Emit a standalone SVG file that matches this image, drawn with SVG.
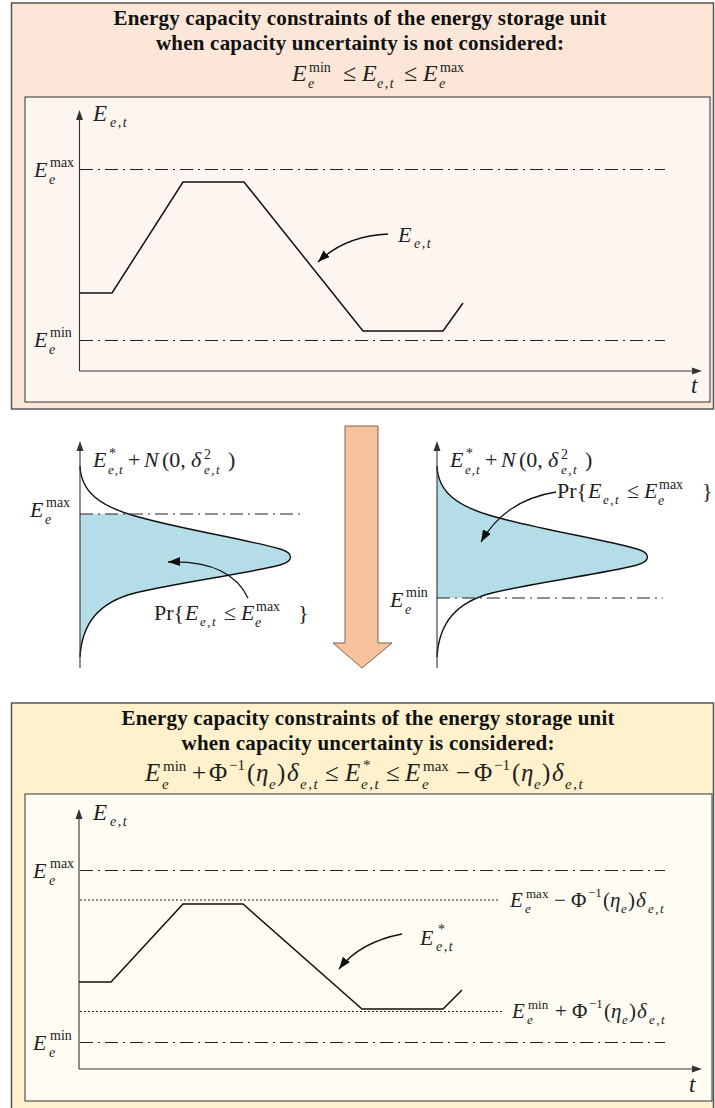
<svg xmlns="http://www.w3.org/2000/svg" width="715" height="1108" viewBox="0 0 715 1108">
<style>
.ttl{font-family:"Liberation Serif","Times New Roman",serif;font-weight:bold;font-size:21px;fill:#111}
.mt{font-family:"Liberation Serif","Times New Roman",serif;fill:#222}
.i{font-style:italic}
.dd{fill:none;stroke:#222;stroke-width:1.2;stroke-dasharray:13 5 2 5}
.dot{fill:none;stroke:#222;stroke-width:1;stroke-dasharray:2 2}
.ax{fill:none;stroke:#333;stroke-width:1.1}
.ah{fill:#333}
.crv{fill:none;stroke:#111;stroke-width:1.5}
.ann{fill:none;stroke:#111;stroke-width:1.3}
.bell{fill:none;stroke:#111;stroke-width:1.4}
.blue{fill:#b5dde8}
</style>
<defs>
<marker id="ar" markerUnits="userSpaceOnUse" markerWidth="13" markerHeight="10" refX="12" refY="4.5" orient="auto">
<path d="M0,0 L12,4.5 L0,9 z" fill="#111"/>
</marker>
<clipPath id="clipL"><rect x="0" y="514" width="350" height="200"/></clipPath>
<clipPath id="clipR"><rect x="400" y="420" width="315" height="178"/></clipPath>
</defs>

<!-- TOP PANEL -->
<g id="top-panel">
<rect x="11.5" y="3" width="702" height="406" fill="#fbe6d7" stroke="#555" stroke-width="1.5"/>
<text class="ttl" x="360" y="25" text-anchor="middle" textLength="493">Energy capacity constraints of the energy storage unit</text>
<text class="ttl" x="360" y="50" text-anchor="middle" textLength="408">when capacity uncertainty is not considered:</text>
<text class="mt" font-size="24">
<tspan class="i" x="292" y="81">E</tspan><tspan x="309" y="72" font-size="14">min</tspan><tspan class="i" x="308" y="88" font-size="14">e</tspan><tspan x="343" y="81">≤</tspan><tspan class="i" x="362" y="81">E</tspan><tspan class="i" x="377" y="88" font-size="14" letter-spacing="1.5">e,t</tspan><tspan x="404" y="81">≤</tspan><tspan class="i" x="423" y="81">E</tspan><tspan x="440" y="72" font-size="14">max</tspan><tspan class="i" x="439" y="88" font-size="14">e</tspan>
</text>
<rect x="25" y="97" width="685" height="305" fill="#fdf6f0" stroke="#333" stroke-width="1"/>
<line class="ax" x1="79.5" y1="371" x2="79.5" y2="118"/>
<polygon class="ah" points="79.5,110 76,120 83,120"/>
<line class="ax" x1="79.5" y1="371" x2="694" y2="371"/>
<polygon class="ah" points="702,371 692,367.5 692,374.5"/>
<line class="dd" x1="80" y1="169.5" x2="665" y2="169.5"/>
<line class="dd" x1="80" y1="340.5" x2="665" y2="340.5"/>
<polyline class="crv" points="79.5,293 112,293 183,182 244,182 363,331 443,331 463,303"/>
<text class="mt" font-size="23"><tspan class="i" x="93" y="121">E</tspan><tspan class="i" x="110" y="127" font-size="14" letter-spacing="1.5">e,t</tspan></text>
<text class="mt" font-size="22"><tspan class="i" x="34" y="177">E</tspan><tspan x="50" y="167" font-size="14">max</tspan><tspan class="i" x="49" y="184" font-size="14">e</tspan></text>
<text class="mt" font-size="22"><tspan class="i" x="34" y="347">E</tspan><tspan x="50" y="337" font-size="14">min</tspan><tspan class="i" x="49" y="354" font-size="14">e</tspan></text>
<text class="mt" font-size="22"><tspan class="i" x="398" y="242">E</tspan><tspan class="i" x="414" y="248" font-size="14" letter-spacing="1.5">e,t</tspan></text>
<text class="mt i" font-size="23" x="691" y="393">t</text>
</g>

<!-- MIDDLE LEFT -->
<g id="middle-left">
<path class="blue" clip-path="url(#clipL)" d="M80,466 C81,492 100,506 135,516 C180,529 245,539 280,549 C294,553 294,561 280,565 C245,574 180,582 135,593 C100,602 82,622 80,657 Z"/>
<path class="bell" d="M80,466 C81,492 100,506 135,516 C180,529 245,539 280,549 C294,553 294,561 280,565 C245,574 180,582 135,593 C100,602 82,622 80,657"/>
<line class="ax" x1="80" y1="668" x2="80" y2="449"/>
<polygon class="ah" points="80,441 76.5,451 83.5,451"/>
<line class="dd" x1="80" y1="514" x2="305" y2="514"/>
<text class="mt" font-size="22"><tspan class="i" x="93" y="467">E</tspan><tspan x="109" y="458" font-size="14">*</tspan><tspan class="i" x="108" y="474" font-size="13" letter-spacing="1">e,t</tspan><tspan x="128" y="467">+</tspan><tspan class="i" x="144" y="467">N</tspan><tspan x="162" y="467">(0,</tspan><tspan class="i" x="191" y="467">δ</tspan><tspan x="204" y="459" font-size="14">2</tspan><tspan class="i" x="204" y="474" font-size="13" letter-spacing="1.5">e,t</tspan><tspan x="228" y="467">)</tspan></text>
<text class="mt" font-size="22"><tspan class="i" x="30" y="517">E</tspan><tspan x="46" y="507" font-size="14">max</tspan><tspan class="i" x="45" y="524" font-size="14">e</tspan></text>
<text class="mt" font-size="22"><tspan x="154" y="620">Pr{</tspan><tspan class="i" x="185" y="620">E</tspan><tspan class="i" x="200" y="626" font-size="13" letter-spacing="1.5">e,t</tspan><tspan x="224" y="620">≤</tspan><tspan class="i" x="241" y="620">E</tspan><tspan x="256" y="611" font-size="14">max</tspan><tspan class="i" x="255" y="627" font-size="14">e</tspan><tspan x="298" y="620">}</tspan></text>
</g>

<!-- TRANSITION ARROW -->
<g id="transition-arrow">
<polygon points="345,426 378,426 378,643 392,643 362,668 333,643 345,643" fill="#f8c39c" stroke="#7d6553" stroke-width="1"/>
</g>

<!-- MIDDLE RIGHT -->
<g id="middle-right">
<path class="blue" clip-path="url(#clipR)" d="M437,466 C438,492 457,506 492,516 C537,529 602,539 637,549 C651,553 651,561 637,565 C602,574 537,582 492,593 C457,602 439,622 437,657 Z"/>
<path class="bell" d="M437,466 C438,492 457,506 492,516 C537,529 602,539 637,549 C651,553 651,561 637,565 C602,574 537,582 492,593 C457,602 439,622 437,657"/>
<line class="ax" x1="437" y1="668" x2="437" y2="449"/>
<polygon class="ah" points="437,441 433.5,451 440.5,451"/>
<line class="dd" x1="437" y1="598" x2="663" y2="598"/>
<text class="mt" font-size="22"><tspan class="i" x="450" y="467">E</tspan><tspan x="466" y="458" font-size="14">*</tspan><tspan class="i" x="465" y="474" font-size="13" letter-spacing="1">e,t</tspan><tspan x="485" y="467">+</tspan><tspan class="i" x="501" y="467">N</tspan><tspan x="519" y="467">(0,</tspan><tspan class="i" x="548" y="467">δ</tspan><tspan x="561" y="459" font-size="14">2</tspan><tspan class="i" x="561" y="474" font-size="13" letter-spacing="1.5">e,t</tspan><tspan x="585" y="467">)</tspan></text>
<text class="mt" font-size="22"><tspan class="i" x="390" y="607">E</tspan><tspan x="406" y="597" font-size="14">min</tspan><tspan class="i" x="405" y="614" font-size="14">e</tspan></text>
<text class="mt" font-size="22"><tspan x="557" y="498">Pr{</tspan><tspan class="i" x="588" y="498">E</tspan><tspan class="i" x="603" y="504" font-size="13" letter-spacing="1.5">e,t</tspan><tspan x="627" y="498">≤</tspan><tspan class="i" x="644" y="498">E</tspan><tspan x="659" y="489" font-size="14">max</tspan><tspan class="i" x="658" y="505" font-size="14">e</tspan><tspan x="702" y="498">}</tspan></text>
</g>

<!-- BOTTOM PANEL -->
<g id="bottom-panel">
<rect x="11.5" y="703" width="702" height="406" fill="#fff1cc" stroke="#555" stroke-width="1.5"/>
<text class="ttl" x="368" y="725" text-anchor="middle" textLength="493">Energy capacity constraints of the energy storage unit</text>
<text class="ttl" x="368" y="750" text-anchor="middle" textLength="373">when capacity uncertainty is considered:</text>
<text class="mt" font-size="25">
<tspan class="i" x="145" y="781">E</tspan><tspan x="163" y="771" font-size="15">min</tspan><tspan class="i" x="162" y="789" font-size="15">e</tspan><tspan x="192" y="781">+</tspan><tspan x="209" y="781">Φ</tspan><tspan x="229" y="770" font-size="15">−1</tspan><tspan x="247" y="781">(</tspan><tspan class="i" x="256" y="781">η</tspan><tspan class="i" x="269" y="789" font-size="15">e</tspan><tspan x="277" y="781">)</tspan><tspan class="i" x="287" y="781">δ</tspan><tspan class="i" x="300" y="789" font-size="15" letter-spacing="1.5">e,t</tspan><tspan x="325" y="781">≤</tspan><tspan class="i" x="345" y="781">E</tspan><tspan x="363" y="770" font-size="15">*</tspan><tspan class="i" x="361" y="789" font-size="15" letter-spacing="1.5">e,t</tspan><tspan x="386" y="781">≤</tspan><tspan class="i" x="405" y="781">E</tspan><tspan x="423" y="771" font-size="15">max</tspan><tspan class="i" x="422" y="789" font-size="15">e</tspan><tspan x="456" y="781">−</tspan><tspan x="474" y="781">Φ</tspan><tspan x="494" y="770" font-size="15">−1</tspan><tspan x="512" y="781">(</tspan><tspan class="i" x="521" y="781">η</tspan><tspan class="i" x="534" y="789" font-size="15">e</tspan><tspan x="542" y="781">)</tspan><tspan class="i" x="552" y="781">δ</tspan><tspan class="i" x="565" y="789" font-size="15" letter-spacing="1.5">e,t</tspan>
</text>
<rect x="25" y="794" width="687" height="307" fill="#fffcf3" stroke="#333" stroke-width="1"/>
<line class="ax" x1="79" y1="1069" x2="79" y2="817"/>
<polygon class="ah" points="79,809 75.5,819 82.5,819"/>
<line class="ax" x1="79" y1="1069" x2="694" y2="1069"/>
<polygon class="ah" points="702,1069 692,1065.5 692,1072.5"/>
<line class="dd" x1="80" y1="870.5" x2="665" y2="870.5"/>
<line class="dd" x1="80" y1="1042.5" x2="665" y2="1042.5"/>
<line class="dot" x1="80" y1="900" x2="498" y2="900"/>
<line class="dot" x1="80" y1="1011.5" x2="503" y2="1011.5"/>
<polyline class="crv" points="79,982 111,982 183,904 243,904 362,1009 443,1009 462,990"/>
<text class="mt" font-size="23"><tspan class="i" x="93" y="820">E</tspan><tspan class="i" x="110" y="826" font-size="14" letter-spacing="1.5">e,t</tspan></text>
<text class="mt" font-size="22"><tspan class="i" x="33" y="878">E</tspan><tspan x="50" y="868" font-size="14">max</tspan><tspan class="i" x="49" y="885" font-size="14">e</tspan></text>
<text class="mt" font-size="22"><tspan class="i" x="33" y="1050">E</tspan><tspan x="50" y="1040" font-size="14">min</tspan><tspan class="i" x="49" y="1057" font-size="14">e</tspan></text>
<text class="mt" font-size="22"><tspan class="i" x="420" y="945">E</tspan><tspan x="438" y="934" font-size="14">*</tspan><tspan class="i" x="436" y="951" font-size="14" letter-spacing="1.5">e,t</tspan></text>
<text class="mt" font-size="21"><tspan class="i" x="510" y="907">E</tspan><tspan x="526" y="898" font-size="13">max</tspan><tspan class="i" x="525" y="913" font-size="13">e</tspan><tspan x="554" y="907">−</tspan><tspan x="571" y="907">Φ</tspan><tspan x="588" y="897" font-size="13">−1</tspan><tspan x="603" y="907">(</tspan><tspan class="i" x="610" y="907">η</tspan><tspan class="i" x="621" y="913" font-size="13">e</tspan><tspan x="628" y="907">)</tspan><tspan class="i" x="636" y="907">δ</tspan><tspan class="i" x="648" y="913" font-size="13" letter-spacing="1.5">e,t</tspan></text>
<text class="mt" font-size="21"><tspan class="i" x="512" y="1018">E</tspan><tspan x="528" y="1009" font-size="13">min</tspan><tspan class="i" x="527" y="1024" font-size="13">e</tspan><tspan x="555" y="1018">+</tspan><tspan x="572" y="1018">Φ</tspan><tspan x="589" y="1008" font-size="13">−1</tspan><tspan x="604" y="1018">(</tspan><tspan class="i" x="611" y="1018">η</tspan><tspan class="i" x="622" y="1024" font-size="13">e</tspan><tspan x="629" y="1018">)</tspan><tspan class="i" x="637" y="1018">δ</tspan><tspan class="i" x="649" y="1024" font-size="13" letter-spacing="1.5">e,t</tspan></text>
<text class="mt i" font-size="23" x="689" y="1092">t</text>
</g>

<!-- CONNECTORS (annotation arrows) -->
<g id="connectors">
<path class="ann" marker-end="url(#ar)" d="M388,234 Q345,236 318,262"/>
<path class="ann" marker-end="url(#ar)" d="M248,598 Q230,560 168,562"/>
<path class="ann" marker-end="url(#ar)" d="M556,492 Q505,500 481,542"/>
<path class="ann" marker-end="url(#ar)" d="M402,934 Q360,942 339,969"/>
</g>
</svg>
